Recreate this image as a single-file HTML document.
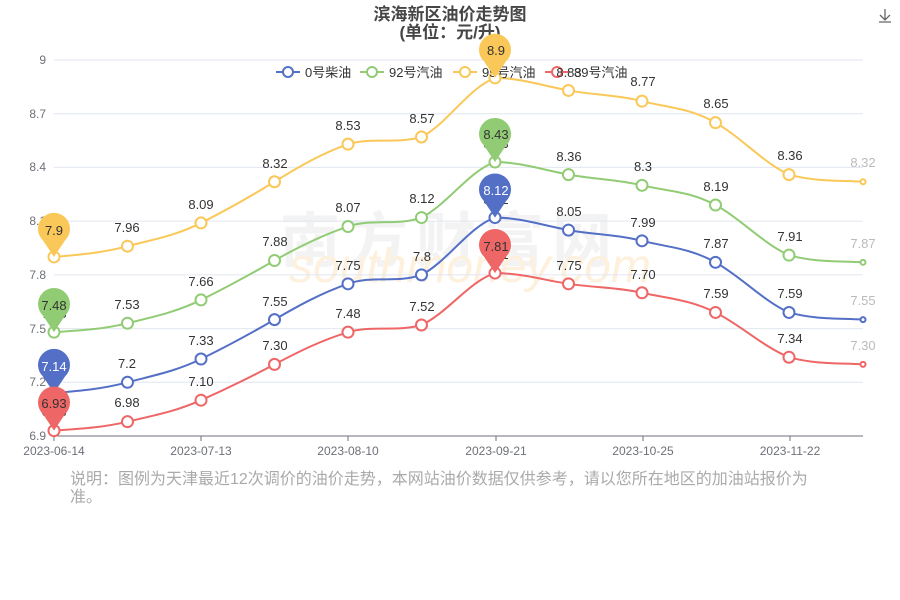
<!DOCTYPE html>
<html><head><meta charset="utf-8"><style>
html,body{margin:0;padding:0;background:#fff;}
svg{display:block;font-family:"Liberation Sans","Noto Sans CJK SC",sans-serif;}
</style></head><body>
<svg id="s" width="900" height="600" viewBox="0 0 900 600">
<text x="450" y="20" text-anchor="middle" font-size="17" font-weight="bold" fill="#464646">滨海新区油价走势图</text>
<text x="450" y="38" text-anchor="middle" font-size="17" font-weight="bold" fill="#464646">(单位：元/升)</text>
<g stroke="#666" stroke-width="1.3" fill="none"><path d="M885 9v11M880 15l5 5 5-5M879 22h12"/></g>
<text x="450" y="262" text-anchor="middle" font-size="60" fill="#f3f3f3" font-weight="bold" letter-spacing="8">南方财富网</text>
<text x="470" y="282" text-anchor="middle" font-size="48" fill="#fdf0dd" font-style="italic">southmoney.com</text>
<g stroke="#e0e6f1" stroke-width="1">
<line x1="54" x2="863" y1="60" y2="60"/><line x1="54" x2="863" y1="113.7" y2="113.7"/><line x1="54" x2="863" y1="167.4" y2="167.4"/><line x1="54" x2="863" y1="221.1" y2="221.1"/><line x1="54" x2="863" y1="274.9" y2="274.9"/><line x1="54" x2="863" y1="328.6" y2="328.6"/><line x1="54" x2="863" y1="382.3" y2="382.3"/>
</g>
<g font-size="12" fill="#6e7079" text-anchor="end">
<text x="46" y="64">9</text><text x="46" y="118">8.7</text><text x="46" y="171">8.4</text><text x="46" y="225">8.1</text><text x="46" y="279">7.8</text><text x="46" y="333">7.5</text><text x="46" y="386">7.2</text><text x="46" y="440">6.9</text>
</g>
<line x1="54" x2="863" y1="436" y2="436" stroke="#6e7079"/>
<g stroke="#6e7079"><line x1="54" x2="54" y1="436" y2="441"/><line x1="201" x2="201" y1="436" y2="441"/><line x1="348" x2="348" y1="436" y2="441"/><line x1="496" x2="496" y1="436" y2="441"/><line x1="643" x2="643" y1="436" y2="441"/><line x1="790" x2="790" y1="436" y2="441"/></g>
<g font-size="12" fill="#6e7079" text-anchor="middle">
<text x="54" y="455">2023-06-14</text><text x="201" y="455">2023-07-13</text><text x="348" y="455">2023-08-10</text><text x="496" y="455">2023-09-21</text><text x="643" y="455">2023-10-25</text><text x="790" y="455">2023-11-22</text>
</g>
<text x="70" y="484" font-size="16" fill="#aaa">说明：图例为天津最近12次调价的油价走势，本网站油价数据仅供参考，请以您所在地区的加油站报价为</text>
<text x="70" y="502" font-size="16" fill="#aaa">准。</text>
<g id="series"></g>
<g font-size="13" fill="#333">
<line x1="276" x2="300" y1="72" y2="72" stroke="#5470c6" stroke-width="2"/><circle cx="288" cy="72" r="5" fill="#fff" stroke="#5470c6" stroke-width="2"/><text x="305" y="77">0号柴油</text>
<line x1="360" x2="384" y1="72" y2="72" stroke="#91cc75" stroke-width="2"/><circle cx="372" cy="72" r="5" fill="#fff" stroke="#91cc75" stroke-width="2"/><text x="389" y="77">92号汽油</text>
<line x1="453" x2="477" y1="72" y2="72" stroke="#fac858" stroke-width="2"/><circle cx="465" cy="72" r="5" fill="#fff" stroke="#fac858" stroke-width="2"/><text x="482" y="77">95号汽油</text>
<line x1="545" x2="569" y1="72" y2="72" stroke="#ee6666" stroke-width="2"/><circle cx="557" cy="72" r="5" fill="#fff" stroke="#ee6666" stroke-width="2"/><text x="574" y="77">89号汽油</text>
</g>
<g id="labels" font-size="13" text-anchor="middle" fill="#333">
<text x="54" y="374">7.14</text><text x="127" y="368">7.2</text><text x="201" y="345">7.33</text><text x="275" y="306">7.55</text><text x="348" y="270">7.75</text><text x="422" y="261">7.8</text><text x="496" y="204">8.12</text><text x="569" y="216">8.05</text><text x="643" y="227">7.99</text><text x="716" y="248">7.87</text><text x="790" y="298">7.59</text><text x="863" y="305" fill="#bbb">7.55</text>
<text x="54" y="318">7.48</text><text x="127" y="309">7.53</text><text x="201" y="286">7.66</text><text x="275" y="246">7.88</text><text x="348" y="212">8.07</text><text x="422" y="203">8.12</text><text x="496" y="148">8.43</text><text x="569" y="161">8.36</text><text x="643" y="171">8.3</text><text x="716" y="191">8.19</text><text x="790" y="241">7.91</text><text x="863" y="248" fill="#bbb">7.87</text>
<text x="54" y="243">7.9</text><text x="127" y="232">7.96</text><text x="201" y="209">8.09</text><text x="275" y="168">8.32</text><text x="348" y="130">8.53</text><text x="422" y="123">8.57</text><text x="496" y="64">8.9</text><text x="569" y="77">8.83</text><text x="643" y="86">8.77</text><text x="716" y="108">8.65</text><text x="790" y="160">8.36</text><text x="863" y="167" fill="#bbb">8.32</text>
<text x="54" y="416">6.93</text><text x="127" y="407">6.98</text><text x="201" y="386">7.10</text><text x="275" y="350">7.30</text><text x="348" y="318">7.48</text><text x="422" y="311">7.52</text><text x="496" y="259">7.81</text><text x="569" y="270">7.75</text><text x="643" y="279">7.70</text><text x="716" y="298">7.59</text><text x="790" y="343">7.34</text><text x="863" y="350" fill="#bbb">7.30</text>
</g>
<g id="pins"></g>
<g font-size="13" text-anchor="middle">
<text x="54" y="371" fill="#fff">7.14</text><text x="496" y="195" fill="#fff">8.12</text>
<text x="54" y="310" fill="#333">7.48</text><text x="496" y="139" fill="#333">8.43</text>
<text x="54" y="235" fill="#333">7.9</text><text x="496" y="55" fill="#333">8.9</text>
<text x="54" y="408" fill="#333">6.93</text><text x="496" y="251" fill="#333">7.81</text>
</g>
</svg>
<script>
(function(){
var X=[54,127.5,201,274.5,348,421.5,495,568.5,642,715.5,789,863];
function Y(v){return 60+(9-v)*179.05;}
var S=[
["#5470c6",[7.14,7.2,7.33,7.55,7.75,7.8,8.12,8.05,7.99,7.87,7.59,7.55]],
["#91cc75",[7.48,7.53,7.66,7.88,8.07,8.12,8.43,8.36,8.3,8.19,7.91,7.87]],
["#fac858",[7.9,7.96,8.09,8.32,8.53,8.57,8.9,8.83,8.77,8.65,8.36,8.32]],
["#ee6666",[6.93,6.98,7.10,7.30,7.48,7.52,7.81,7.75,7.70,7.59,7.34,7.30]]];
var ns="http://www.w3.org/2000/svg",g=document.getElementById("series"),pg=document.getElementById("pins");
function el(t,a,p){var e=document.createElementNS(ns,t);for(var k in a)e.setAttribute(k,a[k]);p.appendChild(e);return e;}
S.forEach(function(s){
 var P=s[1].map(function(v,i){return [X[i],Y(v)];}),d="M"+P[0][0]+" "+P[0][1],k=0.2;
 for(var i=0;i<P.length-1;i++){
  var p0=P[Math.max(0,i-1)],p1=P[i],p2=P[i+1],p3=P[Math.min(P.length-1,i+2)];
  var c1y=p1[1]+(p2[1]-p0[1])*k,c2y=p2[1]-(p3[1]-p1[1])*k;
  var lo=Math.min(p1[1],p2[1]),hi=Math.max(p1[1],p2[1]);
  c1y=Math.min(hi,Math.max(lo,c1y));c2y=Math.min(hi,Math.max(lo,c2y));
  d+=" C"+(p1[0]+(p2[0]-p1[0])*0.35)+" "+c1y+" "+(p2[0]-(p2[0]-p1[0])*0.35)+" "+c2y+" "+p2[0]+" "+p2[1];
 }
 el("path",{d:d,fill:"none",stroke:s[0],"stroke-width":2},g);
 P.forEach(function(p,i){el("circle",{cx:p[0],cy:p[1],r:i==11?2.5:5.5,fill:"#fff",stroke:s[0],"stroke-width":2},g);});
 [0,6].forEach(function(i){var x=P[i][0],y=P[i][1],cy=y-28,r=16;
  el("path",{d:"M"+x+" "+y+" L"+(x-11)+" "+(cy+11.5)+" A"+r+" "+r+" 0 1 1 "+(x+11)+" "+(cy+11.5)+" Z",fill:s[0]},pg);});
});
})();
</script>
</body></html>
